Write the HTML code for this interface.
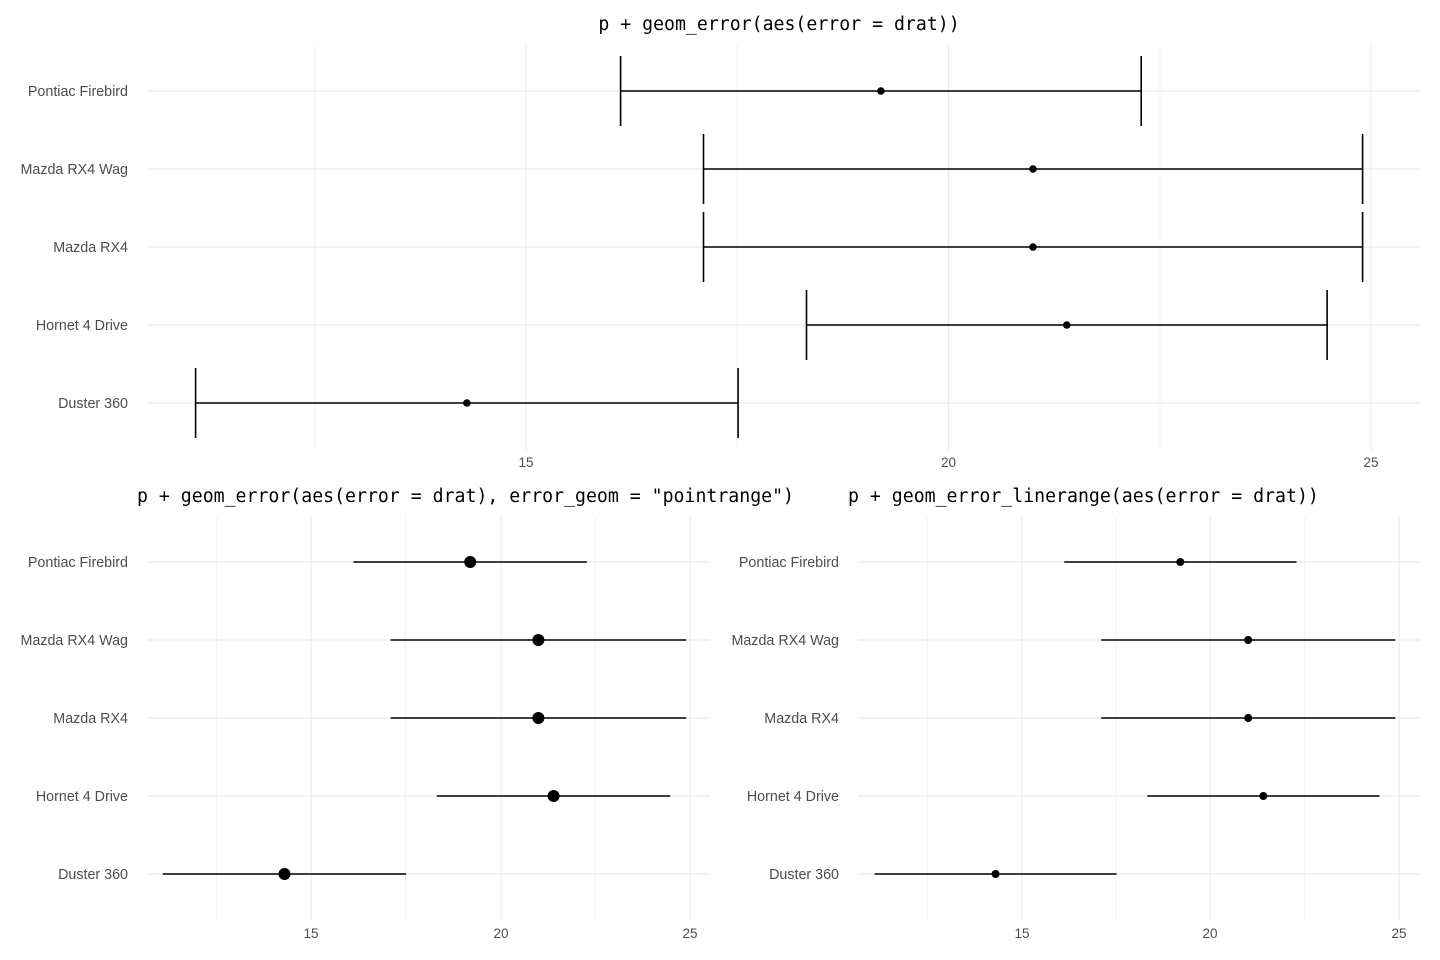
<!DOCTYPE html>
<html><head><meta charset="utf-8"><style>body{margin:0;background:#fff}svg{display:block}</style></head>
<body>
<svg width="1440" height="960" xmlns="http://www.w3.org/2000/svg" font-family="Liberation Sans, sans-serif">
<rect width="1440" height="960" fill="#fff"/>
<g font-family="DejaVu Sans Mono, Liberation Mono, monospace" font-size="18.2" fill="#000">
<text x="779" y="30" text-anchor="middle">p + geom_error(aes(error = drat))</text>
<text x="137" y="502">p + geom_error(aes(error = drat), error_geom = "pointrange")</text>
<text x="848" y="502">p + geom_error_linerange(aes(error = drat))</text>
</g>
<!-- TOP -->
<g stroke="#ebebeb">
<g stroke-width="0.6"><line x1="315" y1="45" x2="315" y2="450"/><line x1="737" y1="45" x2="737" y2="450"/><line x1="1160" y1="45" x2="1160" y2="450"/></g>
<g stroke-width="1.2"><line x1="526" y1="45" x2="526" y2="450"/><line x1="948.5" y1="45" x2="948.5" y2="450"/><line x1="1371" y1="45" x2="1371" y2="450"/>
<line x1="148" y1="91" x2="1420" y2="91"/><line x1="148" y1="169" x2="1420" y2="169"/><line x1="148" y1="247" x2="1420" y2="247"/><line x1="148" y1="325" x2="1420" y2="325"/><line x1="148" y1="403" x2="1420" y2="403"/></g>
</g>
<g font-size="14.3" fill="#4d4d4d" text-anchor="end">
<text x="128" y="96">Pontiac Firebird</text><text x="128" y="174">Mazda RX4 Wag</text><text x="128" y="252">Mazda RX4</text><text x="128" y="330">Hornet 4 Drive</text><text x="128" y="408">Duster 360</text>
</g>
<g font-size="13.5" fill="#4d4d4d" text-anchor="middle"><text x="526" y="467">15</text><text x="948.5" y="467">20</text><text x="1371" y="467">25</text></g>
<g stroke="#000" stroke-width="1.6" fill="none">
<path d="M620.6 91H1141.2M620.6 56V126M1141.2 56V126"/>
<path d="M703.5 169H1362.6M703.5 134V204M1362.6 134V204"/>
<path d="M703.5 247H1362.6M703.5 212V282M1362.6 212V282"/>
<path d="M806.5 325H1327.1M806.5 290V360M1327.1 290V360"/>
<path d="M195.6 403H738.1M195.6 368V438M738.1 368V438"/>
</g>
<g fill="#000"><circle cx="880.9" cy="91" r="3.8"/><circle cx="1033" cy="169" r="3.8"/><circle cx="1033" cy="247" r="3.8"/><circle cx="1066.8" cy="325" r="3.8"/><circle cx="466.9" cy="403" r="3.8"/></g>
<!-- BOTTOM LEFT -->
<g stroke="#ebebeb">
<g stroke-width="0.6"><line x1="216.25" y1="516" x2="216.25" y2="920"/><line x1="405.75" y1="516" x2="405.75" y2="920"/><line x1="595.25" y1="516" x2="595.25" y2="920"/></g>
<g stroke-width="1.2"><line x1="311" y1="516" x2="311" y2="920"/><line x1="501" y1="516" x2="501" y2="920"/><line x1="690" y1="516" x2="690" y2="920"/>
<line x1="148" y1="562" x2="710" y2="562"/><line x1="148" y1="640" x2="710" y2="640"/><line x1="148" y1="718" x2="710" y2="718"/><line x1="148" y1="796" x2="710" y2="796"/><line x1="148" y1="874" x2="710" y2="874"/></g>
</g>
<g font-size="14.3" fill="#4d4d4d" text-anchor="end">
<text x="128" y="567">Pontiac Firebird</text><text x="128" y="645">Mazda RX4 Wag</text><text x="128" y="723">Mazda RX4</text><text x="128" y="801">Hornet 4 Drive</text><text x="128" y="879">Duster 360</text>
</g>
<g font-size="13.5" fill="#4d4d4d" text-anchor="middle"><text x="311" y="938">15</text><text x="501" y="938">20</text><text x="690" y="938">25</text></g>
<g stroke="#000" stroke-width="1.6"><line x1="353.4" y1="562" x2="586.9" y2="562"/><line x1="390.6" y1="640" x2="686.2" y2="640"/><line x1="390.6" y1="718" x2="686.2" y2="718"/><line x1="436.8" y1="796" x2="670.3" y2="796"/><line x1="162.8" y1="874" x2="406.1" y2="874"/></g>
<g fill="#000"><circle cx="470.2" cy="562" r="6"/><circle cx="538.4" cy="640" r="6"/><circle cx="538.4" cy="718" r="6"/><circle cx="553.6" cy="796" r="6"/><circle cx="284.5" cy="874" r="6"/></g>
<!-- BOTTOM RIGHT -->
<g stroke="#ebebeb">
<g stroke-width="0.6"><line x1="927.75" y1="516" x2="927.75" y2="920"/><line x1="1116.25" y1="516" x2="1116.25" y2="920"/><line x1="1304.75" y1="516" x2="1304.75" y2="920"/></g>
<g stroke-width="1.2"><line x1="1022" y1="516" x2="1022" y2="920"/><line x1="1210" y1="516" x2="1210" y2="920"/><line x1="1399" y1="516" x2="1399" y2="920"/>
<line x1="858" y1="562" x2="1420" y2="562"/><line x1="858" y1="640" x2="1420" y2="640"/><line x1="858" y1="718" x2="1420" y2="718"/><line x1="858" y1="796" x2="1420" y2="796"/><line x1="858" y1="874" x2="1420" y2="874"/></g>
</g>
<g font-size="14.3" fill="#4d4d4d" text-anchor="end">
<text x="839" y="567">Pontiac Firebird</text><text x="839" y="645">Mazda RX4 Wag</text><text x="839" y="723">Mazda RX4</text><text x="839" y="801">Hornet 4 Drive</text><text x="839" y="879">Duster 360</text>
</g>
<g font-size="13.5" fill="#4d4d4d" text-anchor="middle"><text x="1022" y="938">15</text><text x="1210" y="938">20</text><text x="1399" y="938">25</text></g>
<g stroke="#000" stroke-width="1.6"><line x1="1064.2" y1="562" x2="1296.5" y2="562"/><line x1="1101.2" y1="640" x2="1395.2" y2="640"/><line x1="1101.2" y1="718" x2="1395.2" y2="718"/><line x1="1147.2" y1="796" x2="1379.4" y2="796"/><line x1="874.6" y1="874" x2="1116.6" y2="874"/></g>
<g fill="#000"><circle cx="1180.3" cy="562" r="4"/><circle cx="1248.2" cy="640" r="4"/><circle cx="1248.2" cy="718" r="4"/><circle cx="1263.3" cy="796" r="4"/><circle cx="995.6" cy="874" r="4"/></g>
</svg>
</body></html>
